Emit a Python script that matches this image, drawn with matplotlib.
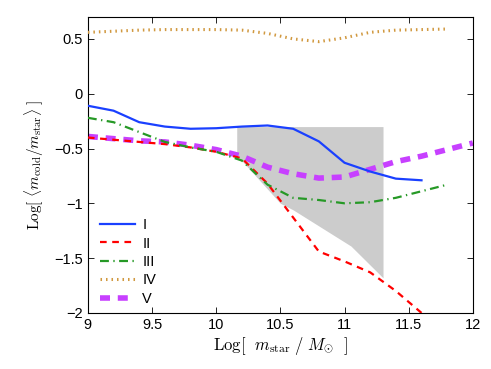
import matplotlib
matplotlib.use("Agg")
import matplotlib.pyplot as plt
import numpy as np

plt.rcParams['mathtext.fontset'] = 'cm'
plt.rcParams['font.family'] = ['Liberation Sans', 'DejaVu Sans']

x_I = [9.0, 9.2, 9.4, 9.6, 9.8, 10.0, 10.2, 10.4, 10.6, 10.8, 11.0, 11.2, 11.4, 11.6]
y_I = [-0.11, -0.155, -0.26, -0.30, -0.32, -0.315, -0.30, -0.29, -0.32, -0.435, -0.63, -0.71, -0.775, -0.79]

x_II = [9.0, 9.2, 9.4, 9.6, 9.8, 10.0, 10.2, 10.4, 10.6, 10.8, 11.0, 11.2, 11.4, 11.6]
y_II = [-0.40, -0.42, -0.44, -0.46, -0.49, -0.53, -0.59, -0.82, -1.13, -1.44, -1.53, -1.63, -1.80, -2.0]

x_III = [9.0, 9.2, 9.4, 9.6, 9.8, 10.0, 10.2, 10.4, 10.6, 10.8, 11.0, 11.2, 11.4, 11.6, 11.8]
y_III = [-0.22, -0.26, -0.35, -0.44, -0.49, -0.53, -0.61, -0.83, -0.95, -0.97, -1.0, -0.99, -0.95, -0.89, -0.83]

x_IV = [9.0, 9.2, 9.4, 9.6, 9.8, 10.0, 10.2, 10.4, 10.6, 10.8, 11.0, 11.2, 11.4, 11.6, 11.8]
y_IV = [0.56, 0.57, 0.58, 0.585, 0.585, 0.585, 0.58, 0.55, 0.50, 0.475, 0.51, 0.56, 0.58, 0.585, 0.59]

x_V = [9.0, 9.2, 9.4, 9.6, 9.8, 10.0, 10.2, 10.4, 10.6, 10.8, 11.0, 11.2, 11.4, 11.6, 11.8, 12.0]
y_V = [-0.39, -0.41, -0.43, -0.44, -0.47, -0.51, -0.57, -0.67, -0.73, -0.77, -0.76, -0.69, -0.62, -0.57, -0.51, -0.45]

shade_x = [10.16, 10.5, 10.6, 11.05, 11.3]
shade_low = [-0.56, -1.0, -1.06, -1.39, -1.68]
shade_high = [-0.3, -0.3, -0.3, -0.3, -0.3]

labels = ['I', 'II', 'III', 'IV', 'V']

fig = plt.figure(figsize=(4.91, 3.69), dpi=100)
ax = fig.add_axes([0.179, 0.152, 0.784, 0.802])

ax.fill_between(shade_x, shade_low, shade_high, color='0.8', lw=0, zorder=1)

ax.plot(x_I, y_I, '-', color=(0.1, 0.25, 1.0), lw=1.6, label=labels[0], zorder=3)
ax.plot(x_II, y_II, '--', color=(1.0, 0.0, 0.0), lw=1.6, dashes=(3, 2.5), label=labels[1], zorder=3)
ax.plot(x_III, y_III, '-.', color=(0.15, 0.6, 0.15), lw=1.6, dashes=(4, 2, 0.6, 2), label=labels[2], zorder=3)
ax.plot(x_IV, y_IV, ':', color=(0.82, 0.6, 0.25), lw=2.2, dashes=(0.5, 1.3), label=labels[3], zorder=3)
ax.plot(x_V, y_V, '--', color=(0.78, 0.25, 1.0), lw=4, dashes=(1.8, 1.4), label=labels[4], zorder=2)

ax.set_xlim(9, 12)
ax.set_ylim(-2, 0.7)
ax.set_xticks([9, 9.5, 10, 10.5, 11, 11.5, 12])
ax.set_xticklabels(['9', '9.5', '10', '10.5', '11', '11.5', '12'])
ax.set_yticks([-2, -1.5, -1, -0.5, 0, 0.5])
ax.set_yticklabels(['\u22122', '\u22121.5', '\u22121', '\u22120.5', '0', '0.5'])
ax.tick_params(direction='in', top=True, right=True, labelsize=10.5, length=4, width=0.6)
for s in ax.spines.values():
    s.set_linewidth(0.8)

ax.set_xlabel(r'$\mathrm{Log}[\ \ m_{\rm star}\ /\ M_{\odot}\ \ ]$', fontsize=12, labelpad=2)
ax.set_ylabel(r'$\mathrm{Log}[\ \langle m_{\rm cold}/m_{\rm star}\rangle\ ]$', fontsize=11, labelpad=6)

ax.legend(loc='lower left', frameon=False, fontsize=10.5, handlelength=2.4,
          handletextpad=0.5, labelspacing=0.3, bbox_to_anchor=(0.005, -0.01),
          borderaxespad=0.3)

fig.savefig('out.png', dpi=100)
